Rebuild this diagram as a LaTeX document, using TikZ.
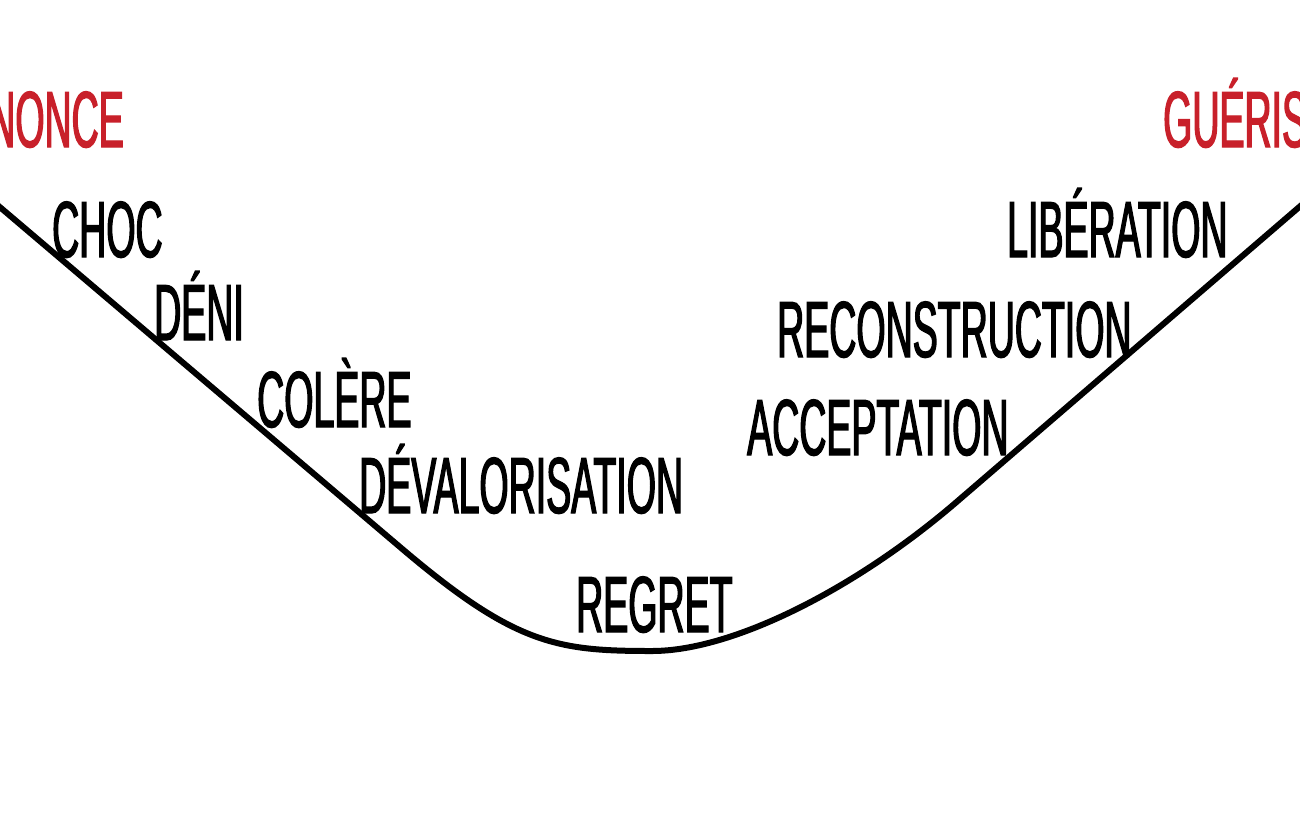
\documentclass[tikz,border=0pt]{standalone}
\usepackage{fontspec}
\newfontfamily\condfont[FakeStretch=0.472,FakeBold=1.6]{Liberation Sans}
\definecolor{stagered}{RGB}{200,32,42}
\tikzset{
  stage/.style={font=\condfont\fontsize{79.5pt}{82pt}\selectfont, text=black, inner sep=0pt, anchor=base west},
  pole/.style={stage, text=stagered},
  curve/.style={line width=6pt, black}
}
\begin{document}
\begin{tikzpicture}[x=1pt,y=-1pt]
\useasboundingbox (0,0) rectangle (1300,815);
\fill[white] (0,0) rectangle (1300,815);
\clip (0,0) rectangle (1300,815);
\coordinate (start) at (-12,197);
\coordinate (leftend) at (400,547);
\coordinate (bottom) at (652,651);
\coordinate (rightstart) at (960,499);
\coordinate (finish) at (1312,196);
\draw[curve] (start) -- (leftend) .. controls (515,645) and (557,651) .. (bottom)
  .. controls (735,651) and (860,586) .. (rightstart) -- (finish);
\node[pole, anchor=base east] (annonce) at (124,147) {ANNONCE};
\node[pole] (guerison) at (1163,147) {GUÉRISON};
\node[stage] (choc) at (52,257) {CHOC};
\node[stage] (deni) at (154,340) {DÉNI};
\node[stage] (colere) at (257,427) {COLÈRE};
\node[stage] (deval) at (359,513) {DÉVALORISATION};
\node[stage] (regret) at (576,632) {REGRET};
\node[stage] (accept) at (747,455) {ACCEPTATION};
\node[stage] (recon) at (777,357) {RECONSTRUCTION};
\node[stage] (liber) at (1007,257) {LIBÉRATION};
\end{tikzpicture}
\end{document}
